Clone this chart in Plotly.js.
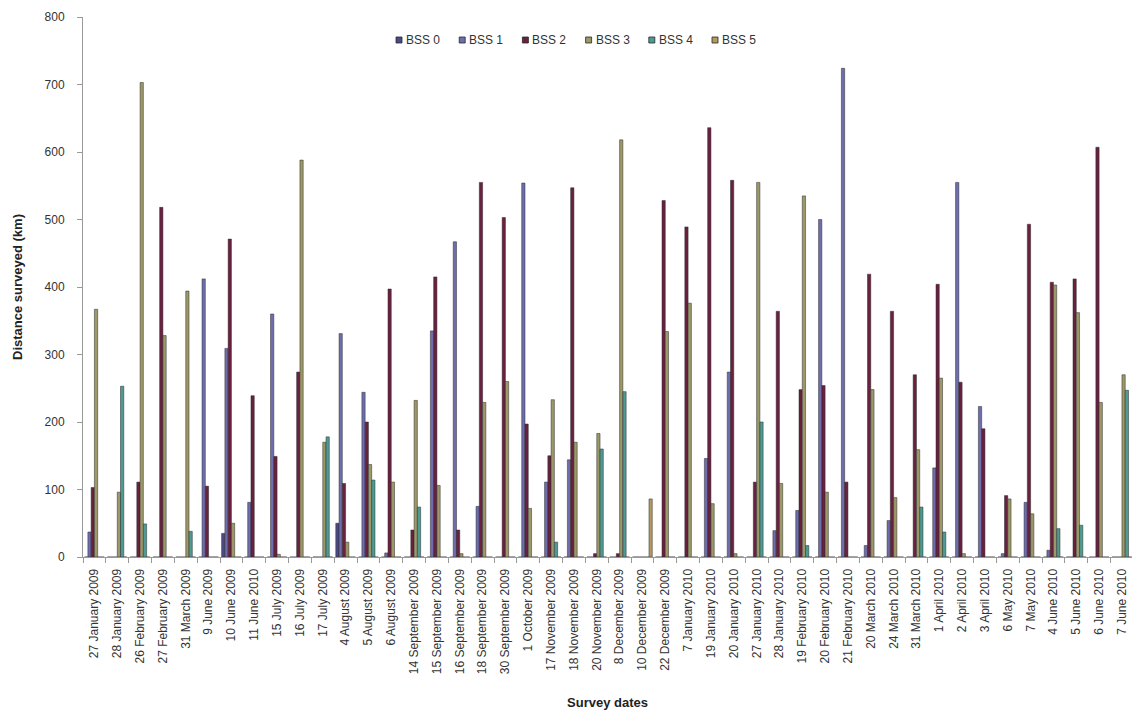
<!DOCTYPE html>
<html>
<head>
<meta charset="utf-8">
<script src="https://cdn.plot.ly/plotly-3.0.1.min.js"></script>
<style>
html,body{margin:0;padding:0;background:#fff;}
#chart{width:1132px;height:717px;}
</style>
</head>
<body>
<div id="chart"></div>
<script>
const dates = [
  "27 January 2009","28 January 2009","26 February 2009","27 February 2009","31 March 2009",
  "9 June 2009","10 June 2009","11 June 2010","15 July 2009","16 July 2009","17 July 2009",
  "4 August 2009","5 August 2009","6 August 2009","14 September 2009","15 September 2009",
  "16 September 2009","18 September 2009","30 September 2009","1 October 2009",
  "17 November 2009","18 November 2009","20 November 2009","8 December 2009",
  "10 December 2009","22 December 2009","7 January 2010","19 January 2010","20 January 2010",
  "27 January 2010","28 January 2010","19 February 2010","20 February 2010","21 February 2010",
  "20 March 2010","24 March 2010","31 March 2010","1 April 2010","2 April 2010","3 April 2010",
  "6 May 2010","7 May 2010","4 June 2010","5 June 2010","6 June 2010","7 June 2010"
];
const seriesNames = ["BSS 0","BSS 1","BSS 2","BSS 3","BSS 4","BSS 5"];
const bss0 = [0,0,0,0,0,0,35,0,0,0,0,50,0,0,0,0,0,0,0,0,0,0,0,0,0,0,0,0,0,0,0,0,0,0,0,0,0,0,0,0,0,0,0,0,0,0];
const bss1 = [37,0,0,0,0,412,309,81,360,0,0,331,244,6,0,335,467,75,0,554,111,144,0,0,0,0,0,146,274,0,39,69,500,724,17,54,0,132,555,223,5,81,10,0,0,0];
const bss2 = [103,0,111,518,0,105,471,239,149,274,0,109,200,397,40,415,40,555,503,197,150,547,5,5,0,528,489,636,558,111,364,248,254,111,419,364,270,404,259,190,91,493,407,412,607,0];
const bss3 = [367,96,703,328,394,0,50,0,4,588,170,22,137,111,232,106,5,229,260,72,233,170,183,618,0,334,376,79,5,555,109,535,96,0,248,88,159,265,5,0,86,64,403,362,229,270];
const bss4 = [0,253,49,0,38,0,0,0,0,0,178,0,114,0,74,0,0,0,0,0,22,0,160,245,0,0,0,0,0,200,0,17,0,0,0,0,74,37,0,0,0,0,42,47,0,247];
const bss5 = [0,0,0,0,0,0,0,0,0,0,0,0,0,0,0,0,0,0,0,0,0,0,0,0,86,0,0,0,0,0,0,0,0,0,0,0,0,0,0,0,0,0,0,0,0,0];
const colors = ["#4B4A86","#6E6EAE","#6A2140","#9C9868","#4E9A94","#B49A5E"];

const allSeries = [bss0,bss1,bss2,bss3,bss4,bss5];
const traces = allSeries.map((vals,i)=>({
  type:"bar",
  name:seriesNames[i],
  x:dates,
  y:vals,
  showlegend:false,
  marker:{color:colors[i], line:{color:"#2a2a2a", width:0.5}}
}));

// Plot area geometry (pixels) used to place a compact legend like the original
const W = 1132, H = 717, ML = 83, MR = 0, MT = 17, MB = 160;
const PW = W - ML - MR, PH = H - MT - MB;
const px2x = p => (p - ML) / PW;
const py2y = p => (H - MB - p) / PH;

const legShapes = [], legAnn = [];
const legX0 = 399, legStep = 63.2, legY = 40, sq = 6;
seriesNames.forEach((nm, i) => {
  const cx = legX0 + i * legStep;
  legShapes.push({type:"rect", xref:"paper", yref:"paper",
    x0:px2x(cx - sq/2), x1:px2x(cx + sq/2), y0:py2y(legY + sq/2), y1:py2y(legY - sq/2),
    fillcolor:colors[i], line:{color:"#2a2a2a", width:0.8}});
  legAnn.push({xref:"paper", yref:"paper", x:px2x(cx + sq/2 + 2), y:py2y(legY),
    xanchor:"left", yanchor:"middle", showarrow:false, text:nm,
    font:{size:12, color:"#333"}});
});

const font = "Liberation Sans, Arial, sans-serif";
const layout = {
  width:W, height:H,
  margin:{l:ML, r:MR, t:MT, b:MB},
  paper_bgcolor:"#fff", plot_bgcolor:"#fff",
  font:{family:font, color:"#333", size:12},
  barmode:"group",
  bargap:0.14,
  bargroupgap:0,
  showlegend:false,
  shapes:legShapes,
  annotations:legAnn,
  xaxis:{
    type:"category",
    range:[-0.5, 45.44],
    showline:true, linecolor:"#999", linewidth:1,
    ticks:"outside", tickson:"boundaries", ticklen:5, tickcolor:"#999",
    tickangle:-90, tickfont:{size:12, color:"#333"}, ticklabelstandoff:6,
    showgrid:false, zeroline:false,
    title:{text:"<b>Survey dates</b>", font:{size:13, color:"#222"}, standoff:24}
  },
  yaxis:{
    range:[0,800], dtick:100,
    showline:true, linecolor:"#999", linewidth:1,
    ticks:"outside", ticklen:5, tickcolor:"#999",
    tickfont:{size:12, color:"#333"}, ticklabelstandoff:10,
    showgrid:false, zeroline:false,
    title:{text:"<b>Distance surveyed (km)</b>", font:{size:13, color:"#222"}, standoff:19}
  }
};
Plotly.newPlot("chart", traces, layout, {displayModeBar:false, staticPlot:true});
</script>
</body>
</html>
